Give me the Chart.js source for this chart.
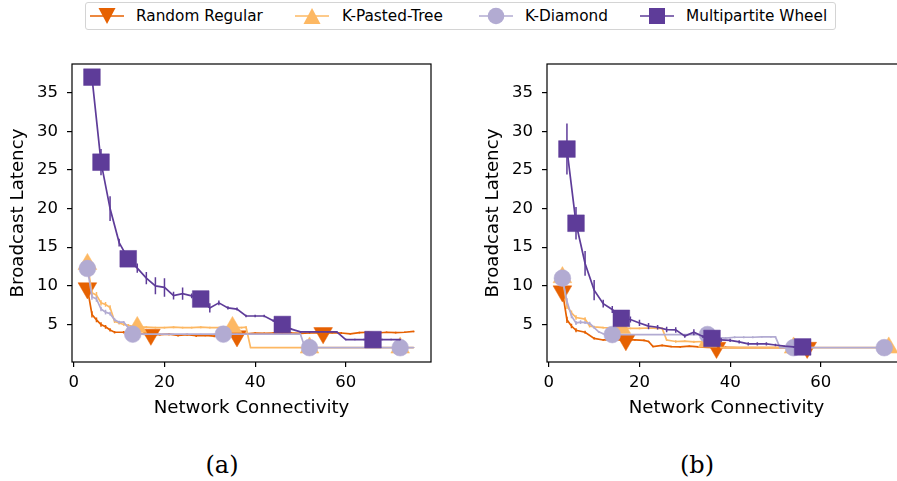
<!DOCTYPE html>
<html>
<head>
<meta charset="utf-8">
<script src="https://cdn.jsdelivr.net/npm/chart.js@4.4.1/dist/chart.umd.min.js"></script>
<style>
html, body { margin: 0; padding: 0; background: #fff; overflow: hidden; width: 897px; height: 481px; }
body { position: relative; font-family: "DejaVu Sans", sans-serif; color: #000; }
canvas { position: absolute; top: 0; }
#chartA { left: 0; }
#chartB { left: 475px; }
.legend { position: absolute; left: 85px; top: 2px; width: 749px; height: 26px; border: 1px solid #d4d4d4; border-radius: 3px; background: #fff; }
.sw { position: absolute; top: 6px; }
.lt { position: absolute; top: 7px; font-size: 15.3px; line-height: 18px; white-space: nowrap; }
.cap { position: absolute; top: 450px; width: 100px; text-align: center; font-family: "DejaVu Serif", serif; font-size: 24px; line-height: 30px; }
</style>
</head>
<body>
<canvas id="chartA" width="460" height="430"></canvas>
<canvas id="chartB" width="460" height="430"></canvas>

<div class="legend"></div>
<svg class="sw" style="left:90px" width="34" height="20"><line x1="0" y1="10" x2="34" y2="10" stroke="#e66101" stroke-width="1.6"/><polygon points="8.5,2 25.5,2 17,18" fill="#e66101"/></svg>
<span class="lt" style="left:136px">Random Regular</span>
<svg class="sw" style="left:295px" width="34" height="20"><line x1="0" y1="10" x2="34" y2="10" stroke="#fdb863" stroke-width="1.6"/><polygon points="8.5,18 25.5,18 17,2" fill="#fdb863"/></svg>
<span class="lt" style="left:342px">K-Pasted-Tree</span>
<svg class="sw" style="left:479px" width="34" height="20"><line x1="0" y1="10" x2="34" y2="10" stroke="#b2abd2" stroke-width="1.6"/><circle cx="17" cy="10" r="8.3" fill="#b2abd2"/></svg>
<span class="lt" style="left:525px">K-Diamond</span>
<svg class="sw" style="left:640px" width="34" height="20"><line x1="0" y1="10" x2="34" y2="10" stroke="#5e3c99" stroke-width="1.6"/><rect x="9" y="2" width="16" height="16" fill="#5e3c99"/></svg>
<span class="lt" style="left:686px">Multipartite Wheel</span>

<div class="cap" style="left:172px">(a)</div>
<div class="cap" style="left:647px">(b)</div>

<script>
// axis ticks
const xTicks = [0, 20, 40, 60];
const yTicks = [5, 10, 15, 20, 25, 30, 35];

// ---- (a) ----
const connA_rr = [3,4,5,6,7,8,9,11,13,15,17,19,21,23,25,27,29,31,33,36,38,40,42,44,46,48,50,52,55,57,59,61,63,65,67,69,71,73,75];
const latA_rr  = [9.7,6.3,5.6,5.0,4.7,4.3,4.0,4.0,3.8,3.75,3.7,3.7,3.75,3.6,3.7,3.55,3.6,3.5,3.65,3.5,3.8,3.9,3.85,3.9,3.95,3.9,3.85,3.9,3.9,3.95,3.9,3.8,3.95,4.0,3.9,4.0,3.95,4.0,4.1];
const errA_rr  = [0.6,0.4,0.3,0.3,0.25,0.2,0.15,0.15,0.15,0.12,0.15,0.12,0.15,0.15,0.12,0.15,0.12,0.15,0.12,0.15,0.12,0.1,0.12,0.1,0.12,0.1,0.12,0.1,0.12,0.1,0.12,0.1,0.12,0.1,0.12,0.1,0.12,0.1,0.1];
const markA_rr = [3,17,36,55];

const connA_kpt = [3,4,5,6,7,8,9,10,11,12,14,16,18,20,22,24,26,28,30,32,35,37,38,39,42,46,52,58,64,68,72,75];
const latA_kpt  = [12.8,9.1,8.8,7.8,7.6,7.2,5.4,5.2,5.0,4.9,4.65,4.65,4.6,4.6,4.65,4.6,4.6,4.65,4.6,4.6,4.65,4.6,4.65,2.0,2.0,2.0,2.0,2.0,2.0,2.0,2.0,2.0];
const errA_kpt  = [0.6,0.4,0.4,0.35,0.3,0.3,0.2,0.2,0.15,0.15,0.12,0.12,0.12,0.12,0.12,0.12,0.12,0.12,0.12,0.12,0.12,0.12,0.12,0.05,0.05,0.05,0.05,0.05,0.05,0.05,0.05,0.05];
const markA_kpt = [3,14,35,52,72];

const connA_kd = [3,4,5,6,7,8,9,10,11,12,13,16,19,22,25,28,31,33,36,39,42,45,48,50,51,52,56,60,64,68,72,75];
const latA_kd  = [12.25,8.6,8.3,7.0,6.6,6.4,5.6,5.3,5.3,4.6,3.75,3.75,3.75,3.75,3.75,3.75,3.75,3.75,3.75,3.75,3.75,3.75,3.75,3.75,2.0,2.0,2.0,2.0,2.0,2.0,2.0,2.0];
const errA_kd  = [0.5,0.4,0.35,0.3,0.3,0.25,0.2,0.2,0.15,0.15,0.08,0.05,0.05,0.05,0.05,0.05,0.05,0.05,0.05,0.05,0.05,0.05,0.05,0.05,0.05,0.05,0.05,0.05,0.05,0.05,0.05,0.05];
const markA_kd = [3,13,33,52,72];

const connA_mw = [4,6,8,10,12,14,16,18,20,22,24,26,28,30,32,34,36,38,40,42,44,46,48,50,52,54,56,58,60,62,64,66,68,70,72];
const latA_mw  = [37,26,20,15.6,13.5,12.3,11.0,10.0,9.8,8.75,9.0,8.7,8.3,7.15,7.8,7.15,7.0,6.1,6.1,6.1,5.5,5.0,4.4,4.05,4.05,4.05,4.05,4.05,3.05,3.05,3.05,3.05,3.05,3.05,3.05];
const errA_mw  = [0.8,1.7,1.6,0.5,0.5,0.6,0.8,1.1,1.2,0.5,0.8,0.3,0.3,0.6,0.3,0.2,0.2,0.15,0.15,0.15,0.15,0.15,0.1,0.1,0.1,0.1,0.1,0.1,0.1,0.1,0.1,0.1,0.1,0.1,0.1];
const markA_mw = [4,6,12,28,46,66];

// ---- (b) ----
const connB_rr = [3,4,5,6,8,10,12,14,17,19,21,22,23,25,27,29,31,33,35,37,39,42,45,48,51,54,57];
const latB_rr  = [9.3,5.6,4.8,4.25,4.0,3.2,3.0,3.0,3.0,3.0,2.95,2.8,2.15,2.3,2.15,2.1,2.2,2.1,2.05,2.0,2.05,2.0,2.0,2.0,2.0,2.0,2.0];
const errB_rr  = [0.5,0.4,0.3,0.25,0.2,0.15,0.1,0.1,0.1,0.1,0.1,0.1,0.1,0.12,0.1,0.12,0.1,0.12,0.1,0.1,0.1,0.05,0.05,0.05,0.05,0.05,0.05];
const markB_rr = [3,17,37,57];

const connB_kpt = [3,4,5,6,8,9,10,12,14,16,18,20,22,24,25,26,28,30,32,34,35,36,37,38,42,46,50,54,58,62,66,70,75];
const latB_kpt  = [11.1,7.4,6.5,5.9,5.7,4.8,4.7,4.6,4.55,4.55,4.5,4.5,4.55,4.5,4.5,3.0,2.8,2.85,2.75,2.8,2.75,2.8,2.8,2.0,2.0,2.0,2.0,2.0,2.0,2.0,2.0,2.0,2.0];
const errB_kpt  = [0.5,0.4,0.3,0.3,0.25,0.2,0.15,0.12,0.1,0.1,0.1,0.1,0.1,0.1,0.1,0.12,0.15,0.12,0.15,0.12,0.15,0.12,0.12,0.05,0.05,0.05,0.05,0.05,0.05,0.05,0.05,0.05,0.05];
const markB_kpt = [3,16,35,54,75];

const connB_kd = [3,4,5,6,7,8,9,10,11,12,14,17,20,23,26,29,32,35,37,39,41,43,45,47,49,50,51,54,58,62,66,70,74];
const latB_kd  = [11.0,8.0,6.1,5.2,5.3,5.25,5.15,4.6,4.05,3.8,3.7,3.7,3.7,3.7,3.7,3.7,3.7,3.7,3.3,3.25,3.35,3.35,3.35,3.4,3.4,3.4,2.0,2.0,2.0,2.0,2.0,2.0,2.0];
const errB_kd  = [0.5,0.4,0.3,0.25,0.25,0.2,0.2,0.15,0.1,0.08,0.06,0.06,0.06,0.06,0.06,0.06,0.06,0.06,0.12,0.12,0.12,0.12,0.12,0.12,0.12,0.1,0.05,0.05,0.05,0.05,0.05,0.05,0.05];
const markB_kd = [3,14,35,54,74];

const connB_mw = [4,6,8,10,12,14,16,18,20,22,24,26,28,30,32,34,36,38,40,42,44,46,48,50,52,54,56,57];
const latB_mw  = [27.7,18.1,12.9,9.45,7.7,6.95,5.8,5.65,5.2,4.8,4.65,4.35,4.3,3.5,4.0,3.45,3.2,3.0,2.95,2.75,2.5,2.5,2.5,2.35,2.2,2.1,2.1,2.1];
const errB_mw  = [3.3,2.1,1.6,1.3,0.5,0.45,0.3,0.4,0.4,0.4,0.3,0.35,0.35,0.2,0.4,0.2,0.2,0.25,0.2,0.2,0.2,0.2,0.2,0.15,0.1,0.1,0.1,0.1];
const markB_mw = [4,6,16,36,56];

const colors = { rr: '#e66101', kpt: '#fdb863', kd: '#b2abd2', mw: '#5e3c99' };

function makeSet(label, color, style, rot, radius, order, conn, lat, err, marks) {
    return {
        label: label,
        data: conn.map((x, i) => ({ x: x, y: lat[i] })),
        errs: err,
        borderColor: color,
        backgroundColor: color,
        borderWidth: 1.7,
        tension: 0,
        fill: false,
        pointStyle: style,
        rotation: rot,
        pointRadius: conn.map(x => marks.includes(x) ? radius : 0),
        pointBackgroundColor: color,
        pointBorderColor: color,
        pointBorderWidth: 0.5,
        order: order
    };
}

// vertical error bars, drawn under each dataset's own line
const errorBars = {
    id: 'errorBars',
    beforeDatasetDraw(chart, args) {
        const ds = chart.data.datasets[args.index];
        if (!ds.errs) return;
        const ctx = chart.ctx, a = chart.chartArea;
        const xs = chart.scales.x, ys = chart.scales.y;
        ctx.save();
        ctx.beginPath();
        ctx.rect(a.left, a.top, a.right - a.left, a.bottom - a.top);
        ctx.clip();
        ctx.strokeStyle = ds.borderColor;
        ctx.lineWidth = 1.5;
        ctx.beginPath();
        ds.data.forEach((p, i) => {
            const px = xs.getPixelForValue(p.x);
            ctx.moveTo(px, ys.getPixelForValue(p.y - ds.errs[i]));
            ctx.lineTo(px, ys.getPixelForValue(p.y + ds.errs[i]));
        });
        ctx.stroke();
        ctx.restore();
    }
};

const frame = {
    id: 'frame',
    afterDatasetsDraw(chart) {
        const ctx = chart.ctx, a = chart.chartArea;
        ctx.save();
        ctx.strokeStyle = '#000';
        ctx.lineWidth = 1.2;
        ctx.strokeRect(a.left, a.top, a.right - a.left, a.bottom - a.top);
        ctx.restore();
    }
};

function drawPanel(id, sets) {
    const tickFont = { family: 'DejaVu Sans', size: 16.5 };
    const titleFont = { family: 'DejaVu Sans', size: 18.2 };
    new Chart(document.getElementById(id), {
        type: 'line',
        data: { datasets: sets },
        options: {
            responsive: false,
            animation: false,
            events: [],
            layout: { padding: { left: 0, top: 64, right: 29, bottom: 0 } },
            plugins: { legend: { display: false }, tooltip: { enabled: false } },
            scales: {
                x: {
                    type: 'linear',
                    min: -0.4,
                    max: 78.8,
                    afterBuildTicks: ax => { ax.ticks = xTicks.map(v => ({ value: v })); },
                    afterFit: s => { s.height = 68; },
                    grid: { drawOnChartArea: false, drawTicks: true, tickLength: 5, color: '#000', lineWidth: 1.2 },
                    border: { display: false },
                    ticks: { color: '#000', font: tickFont, padding: 6, maxRotation: 0, autoSkip: false },
                    title: { display: true, text: 'Network Connectivity', color: '#000', font: titleFont, padding: { top: 0, bottom: 11 } }
                },
                y: {
                    type: 'linear',
                    min: 0.15,
                    max: 38.7,
                    afterBuildTicks: ax => { ax.ticks = yTicks.map(v => ({ value: v })); },
                    afterFit: s => { s.width = 72; },
                    grid: { drawOnChartArea: false, drawTicks: true, tickLength: 5, color: '#000', lineWidth: 1.2 },
                    border: { display: false },
                    ticks: { color: '#000', font: tickFont, padding: 9, autoSkip: false },
                    title: { display: true, text: 'Broadcast Latency', color: '#000', font: titleFont, padding: { top: 7.5, bottom: 0 } }
                }
            }
        },
        plugins: [errorBars, frame]
    });
}

drawPanel('chartA', [
    makeSet('Random Regular', colors.rr, 'triangle', 180, 10.8, 4, connA_rr, latA_rr, errA_rr, markA_rr),
    makeSet('K-Pasted-Tree', colors.kpt, 'triangle', 0, 10.8, 3, connA_kpt, latA_kpt, errA_kpt, markA_kpt),
    makeSet('K-Diamond', colors.kd, 'circle', 0, 8.4, 2, connA_kd, latA_kd, errA_kd, markA_kd),
    makeSet('Multipartite Wheel', colors.mw, 'rect', 0, 11.8, 1, connA_mw, latA_mw, errA_mw, markA_mw)
]);

drawPanel('chartB', [
    makeSet('Random Regular', colors.rr, 'triangle', 180, 10.8, 4, connB_rr, latB_rr, errB_rr, markB_rr),
    makeSet('K-Pasted-Tree', colors.kpt, 'triangle', 0, 10.8, 3, connB_kpt, latB_kpt, errB_kpt, markB_kpt),
    makeSet('K-Diamond', colors.kd, 'circle', 0, 8.4, 2, connB_kd, latB_kd, errB_kd, markB_kd),
    makeSet('Multipartite Wheel', colors.mw, 'rect', 0, 11.8, 1, connB_mw, latB_mw, errB_mw, markB_mw)
]);
</script>
</body>
</html>
